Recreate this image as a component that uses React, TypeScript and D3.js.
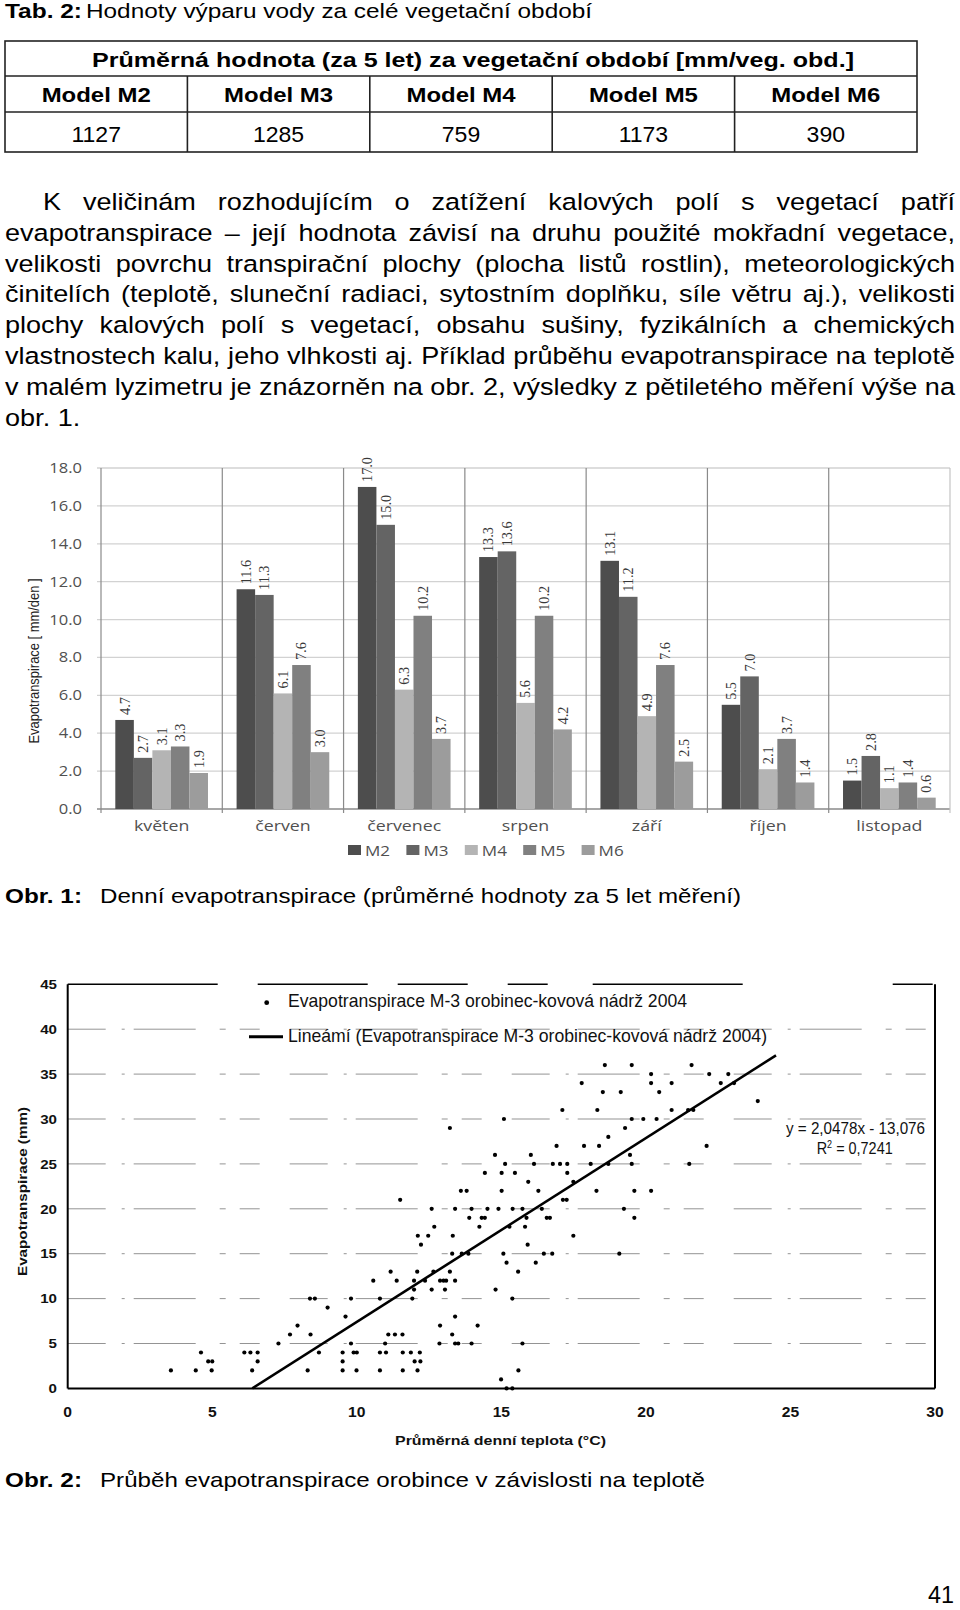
import * as d3 from 'd3';

// ---------- Tab. 2 ----------
const tableTitle = 'Průměrná hodnota (za 5 let) za vegetační období [mm/veg. obd.]';
const tableModels = ['Model M2', 'Model M3', 'Model M4', 'Model M5', 'Model M6'];
const tableValues = [1127, 1285, 759, 1173, 390];

// ---------- paragraph ----------
const paragraphLines = [
  'K veličinám rozhodujícím o zatížení kalových polí s vegetací patří',
  'evapotranspirace – její hodnota závisí na druhu použité mokřadní vegetace,',
  'velikosti povrchu transpirační plochy (plocha listů rostlin), meteorologických',
  'činitelích (teplotě, sluneční radiaci, sytostním doplňku, síle větru aj.), velikosti',
  'plochy kalových polí s vegetací, obsahu sušiny, fyzikálních a chemických',
  'vlastnostech kalu, jeho vlhkosti aj. Příklad průběhu evapotranspirace na teplotě',
  'v malém lyzimetru je znázorněn na obr. 2, výsledky z pětiletého měření výše na',
  'obr. 1.',
];

// ---------- Obr. 1 (bar chart) ----------
const months = ['květen', 'červen', 'červenec', 'srpen', 'září', 'říjen', 'listopad'];
const seriesNames = ['M2', 'M3', 'M4', 'M5', 'M6'];
const valuesM2 = [4.7, 11.6, 17.0, 13.3, 13.1, 5.5, 1.5];
const valuesM3 = [2.7, 11.3, 15.0, 13.6, 11.2, 7.0, 2.8];
const valuesM4 = [3.1, 6.1, 6.3, 5.6, 4.9, 2.1, 1.1];
const valuesM5 = [3.3, 7.6, 10.2, 10.2, 7.6, 3.7, 1.4];
const valuesM6 = [1.9, 3.0, 3.7, 4.2, 2.5, 1.4, 0.6];
const seriesColors = ['#4d4d4d', '#646464', '#b4b4b4', '#808080', '#9c9c9c'];
const barTicks = [0, 2, 4, 6, 8, 10, 12, 14, 16, 18];

// ---------- Obr. 2 (scatter) ----------
// [temperature °C, evapotranspiration mm]
const scatterPoints: [number, number][] = [
  [15.18, 0], [15.38, 0], [14.99, 1],
  [3.57, 2], [4.43, 2], [4.98, 2], [6.38, 2], [8.3, 2], [9.51, 2], [9.99, 2], [10.8, 2], [11.59, 2], [12.1, 2], [15.59, 2],
  [4.86, 3], [5.0, 3], [6.57, 3], [9.51, 3], [12.0, 3], [12.2, 3],
  [4.61, 4], [6.11, 4], [6.32, 4], [6.57, 4], [8.69, 4], [9.51, 4], [9.89, 4], [10.0, 4], [10.8, 4], [11.01, 4], [11.59, 4], [11.87, 4], [12.18, 4],
  [7.29, 5], [9.8, 5], [10.98, 5], [12.86, 5], [13.4, 5], [13.51, 5], [13.97, 5], [15.73, 5],
  [7.69, 6], [8.4, 6], [11.09, 6], [11.32, 6], [11.58, 6], [13.3, 6],
  [7.95, 7], [12.88, 7], [14.18, 7],
  [9.61, 8], [13.4, 8],
  [8.99, 9],
  [8.38, 10], [8.55, 10], [9.8, 10], [10.8, 10], [11.92, 10], [15.38, 10],
  [11.98, 11], [12.59, 11], [13.05, 11], [14.8, 11],
  [10.57, 12], [11.38, 12], [11.98, 12], [12.36, 12], [12.88, 12], [13.0, 12], [13.09, 12], [13.4, 12],
  [11.17, 13], [12.09, 13], [12.65, 13], [13.22, 13], [15.58, 13],
  [15.18, 14], [16.19, 14],
  [13.3, 15], [13.63, 15], [13.86, 15], [15.07, 15], [16.47, 15], [16.76, 15], [19.08, 15],
  [12.22, 16], [15.91, 16],
  [12.11, 17], [12.47, 17], [13.32, 17], [17.49, 17],
  [12.68, 18], [14.24, 18], [15.28, 18], [15.82, 18],
  [13.89, 19], [14.32, 19], [14.43, 19], [15.87, 19], [16.57, 19], [16.68, 19], [19.6, 19],
  [12.59, 20], [13.4, 20], [13.97, 20], [14.52, 20], [14.9, 20], [15.39, 20], [15.73, 20], [16.4, 20], [19.24, 20],
  [11.5, 21], [17.13, 21], [17.26, 21],
  [13.6, 22], [13.8, 22], [15.01, 22], [16.28, 22], [18.29, 22], [19.6, 22], [20.18, 22],
  [15.93, 23], [17.49, 23],
  [14.43, 24], [15.01, 24], [15.47, 24], [17.28, 24],
  [15.13, 25], [16.13, 25], [16.78, 25], [17.03, 25], [17.28, 25], [18.09, 25], [18.7, 25], [19.51, 25], [21.5, 25],
  [14.78, 26], [16.02, 26], [19.45, 26],
  [16.91, 27], [17.86, 27], [18.38, 27], [22.1, 27],
  [18.7, 28],
  [13.22, 29], [19.28, 29],
  [15.09, 30], [19.51, 30], [19.91, 30], [20.37, 30],
  [17.11, 31], [18.32, 31], [20.89, 31], [21.46, 31], [21.64, 31],
  [23.87, 32],
  [18.51, 33], [19.13, 33], [20.46, 33],
  [17.78, 34], [20.18, 34], [20.89, 34], [22.59, 34], [23.05, 34],
  [20.18, 35], [22.19, 35], [22.85, 35],
  [18.58, 36], [19.51, 36], [21.58, 36],
];
const scatterTicksY = [0, 5, 10, 15, 20, 25, 30, 35, 40, 45];
const scatterTicksX = [0, 5, 10, 15, 20, 25, 30];
const trendSlope = 2.0478;
const trendIntercept = -13.076;
const trendEnd = 24.5;

const SANS = "'Liberation Sans', Arial, sans-serif";
const CHART = "'Open Sans', 'DejaVu Sans', sans-serif";
const SERIF = "'Liberation Serif', 'DejaVu Serif', serif";
const SX = 1.15; // the page is stretched horizontally
const BODY_SIZE = 24.5;
const BODY_SX = 1.105;

let measureCtx: CanvasRenderingContext2D | null = null;
const textWidth = (s: string, font: string) => {
  if (!measureCtx) measureCtx = document.createElement('canvas').getContext('2d');
  measureCtx!.font = font;
  return measureCtx!.measureText(s).width;
};

type TProps = {
  x: number;
  y: number;
  size: number;
  bold?: boolean;
  family?: string;
  anchor?: 'start' | 'middle' | 'end';
  width?: number;
  sx?: number;
  fill?: string;
  rotate?: boolean;
  children: string;
};

const T = ({ x, y, size, bold, family = SANS, anchor = 'start', width, sx = SX, fill = '#000', rotate, children }: TProps) => {
  const w = width ?? textWidth(children, `${bold ? 'bold ' : ''}${size}px ${family}`) * sx;
  return (
    <text
      x={x}
      y={y}
      fontSize={size}
      fontWeight={bold ? 'bold' : 'normal'}
      fontFamily={family}
      textAnchor={anchor}
      textLength={w}
      lengthAdjust="spacingAndGlyphs"
      fill={fill}
      transform={rotate ? `rotate(-90 ${x} ${y})` : undefined}
    >
      {children}
    </text>
  );
};

const JustifiedLine = ({ line, x0, x1, y, size, justify }: { line: string; x0: number; x1: number; y: number; size: number; justify: boolean }) => {
  const font = `${size}px ${SANS}`;
  const words = line.split(' ');
  let ws = words.map((w) => textWidth(w, font) * BODY_SX);
  const space = textWidth(' ', font) * BODY_SX;
  let gap = space;
  if (justify && words.length > 1) {
    gap = (x1 - x0 - d3.sum(ws)) / (words.length - 1);
    if (gap < 5) {
      const k = (x1 - x0 - 5 * (words.length - 1)) / d3.sum(ws);
      ws = ws.map((w) => w * k);
      gap = 5;
    }
  }
  let cx = x0;
  return (
    <g>
      {words.map((w, i) => {
        const el = (
          <text key={i} x={cx} y={y} fontSize={size} fontFamily={SANS} textLength={ws[i]} lengthAdjust="spacingAndGlyphs">
            {w}
          </text>
        );
        cx += ws[i] + gap;
        return el;
      })}
    </g>
  );
};

export default function App() {
  // table
  const tableCols = d3.scaleBand<string>().domain(tableModels).range([5, 917]);
  const tableRows = [41, 76, 112, 152];

  // bar chart
  const xMonth = d3.scaleBand<string>().domain(months).range([101, 950]);
  const groupPad = 14.3;
  const xSeries = d3.scaleBand<string>().domain(seriesNames).range([groupPad, xMonth.bandwidth() - groupPad]);
  const yBar = d3.scaleLinear().domain([0, 18]).range([809, 468]);
  const barSeries = [valuesM2, valuesM3, valuesM4, valuesM5, valuesM6];
  const legendX = d3.scaleBand<string>().domain(seriesNames).range([348, 640]);

  // scatter
  const xTemp = d3.scaleLinear().domain([0, 30]).range([67.7, 935]);
  const yEvap = d3.scaleLinear().domain([0, 45]).range([1388.4, 984.3]);
  const trendLine = d3
    .line<number>()
    .x((t) => xTemp(t))
    .y((t) => yEvap(trendSlope * t + trendIntercept));
  const trendX = [-trendIntercept / trendSlope, trendEnd];

  return (
    <svg
      width={960}
      height={1610}
      style={{ position: 'absolute', left: 0, top: 0, display: 'block', background: '#fff' }}
    >
      <rect width={960} height={1610} fill="#fff" />

      {/* ---- Tab. 2 ---- */}
      <T x={5} y={17.5} size={20.5} bold width={77}>Tab. 2:</T>
      <T x={86} y={17.5} size={20.5} width={506}>Hodnoty výparu vody za celé vegetační období</T>

      <rect x={5} y={tableRows[0]} width={912} height={tableRows[3] - tableRows[0]} fill="none" stroke="#222" strokeWidth={1.6} />
      {tableRows.slice(1, 3).map((y) => (
        <line key={y} x1={5} x2={917} y1={y} y2={y} stroke="#222" strokeWidth={1.6} />
      ))}
      {tableModels.slice(1).map((m) => (
        <line key={m} x1={tableCols(m)!} x2={tableCols(m)!} y1={tableRows[1]} y2={tableRows[3]} stroke="#222" strokeWidth={1.6} />
      ))}
      <T x={92} y={66.5} size={21} bold width={762}>{tableTitle}</T>
      {tableModels.map((m) => (
        <T key={m} x={tableCols(m)! + tableCols.bandwidth() / 2} y={101.5} size={21} bold anchor="middle" width={109}>
          {m}
        </T>
      ))}
      {tableModels.map((m, i) => (
        <T key={m} x={tableCols(m)! + tableCols.bandwidth() / 2} y={141.5} size={21.5} anchor="middle" sx={1.07}>
          {String(tableValues[i])}
        </T>
      ))}

      {/* ---- paragraph ---- */}
      {paragraphLines.map((line, i) => (
        <JustifiedLine
          key={i}
          line={line}
          x0={i === 0 ? 43 : 5}
          x1={955}
          y={210 + i * 30.8}
          size={BODY_SIZE}
          justify={i < paragraphLines.length - 1}
        />
      ))}

      {/* ---- Obr. 1: bar chart ---- */}
      <g>
        {barTicks.map((t) => (
          <line
            key={t}
            x1={97}
            x2={950}
            y1={yBar(t)}
            y2={yBar(t)}
            stroke={t === 0 ? '#8a8a8a' : '#d2d2d2'}
            strokeWidth={1.3}
          />
        ))}
        {months.map((m) => (
          <line key={m} x1={xMonth(m)!} x2={xMonth(m)!} y1={yBar(18)} y2={813} stroke="#8a8a8a" strokeWidth={1.2} />
        ))}
        <line x1={950} x2={950} y1={yBar(18)} y2={813} stroke="#c4c4c4" strokeWidth={1.2} />

        {months.map((m, mi) =>
          seriesNames.map((s, si) => {
            const v = barSeries[si][mi];
            const x = xMonth(m)! + xSeries(s)!;
            return (
              <rect
                key={m + s}
                x={x}
                y={yBar(v)}
                width={xSeries.bandwidth()}
                height={yBar(0) - yBar(v)}
                fill={seriesColors[si]}
              />
            );
          })
        )}
        {months.map((m, mi) =>
          seriesNames.map((s, si) => {
            const v = barSeries[si][mi];
            const cx = xMonth(m)! + xSeries(s)! + xSeries.bandwidth() / 2;
            return (
              <T key={m + s} x={cx + 5} y={yBar(v) - 5} size={15} family={SERIF} sx={0.95} fill="#383838" rotate>
                {v.toFixed(1)}
              </T>
            );
          })
        )}

        {barTicks.map((t) => (
          <T key={t} x={82} y={yBar(t) + 5} size={14} family={CHART} anchor="end" sx={1.18} fill="#505050">
            {t.toFixed(1)}
          </T>
        ))}
        {months.map((m) => (
          <T key={m} x={xMonth(m)! + xMonth.bandwidth() / 2} y={831} size={14} family={CHART} anchor="middle" sx={1.27} fill="#505050">
            {m}
          </T>
        ))}
        <T x={39} y={661} size={15} anchor="middle" width={165} fill="#222" rotate>
          Evapotranspirace [ mm/den ]
        </T>

        {seriesNames.map((s, si) => (
          <g key={s}>
            <rect x={legendX(s)!} y={845} width={13} height={10} fill={seriesColors[si]} />
            <T x={legendX(s)! + 17} y={855.5} size={14} family={CHART} sx={1.22} fill="#505050">
              {s}
            </T>
          </g>
        ))}
      </g>

      <T x={5} y={903} size={21} bold width={77}>Obr. 1:</T>
      <T x={100} y={903} size={21} width={641}>Denní evapotranspirace (průměrné hodnoty za 5 let měření)</T>

      {/* ---- Obr. 2: scatter ---- */}
      <g>
        {scatterTicksY.slice(1).map((t) => (
          <line
            key={t}
            x1={xTemp(0)}
            x2={xTemp(30)}
            y1={yEvap(t)}
            y2={yEvap(t)}
            stroke={t === 45 ? '#000' : '#666'}
            strokeWidth={t === 45 ? 1.6 : 0.7}
            strokeDasharray={t === 45 ? '150 40 110 30 70 40 40 45 150' : '38 16 3 9 62 24 6 14 20 30'}
          />
        ))}
        <line x1={xTemp(0)} x2={xTemp(0)} y1={yEvap(45)} y2={yEvap(0)} stroke="#000" strokeWidth={2} />
        <line x1={xTemp(0)} x2={xTemp(30)} y1={yEvap(0)} y2={yEvap(0)} stroke="#000" strokeWidth={2} />
        <line x1={xTemp(30)} x2={xTemp(30)} y1={yEvap(45)} y2={yEvap(0)} stroke="#000" strokeWidth={2} />

        {scatterPoints.map(([t, e], i) => (
          <circle key={i} cx={xTemp(t)} cy={yEvap(e)} r={2.1} fill="#000" />
        ))}
        <path d={trendLine(trendX) ?? ''} stroke="#000" strokeWidth={2.6} fill="none" />

        {scatterTicksY.map((t) => (
          <T key={t} x={57} y={yEvap(t) + 4.7} size={13.5} bold anchor="end" sx={1.12} fill="#111">
            {String(t)}
          </T>
        ))}
        {scatterTicksX.map((t) => (
          <T key={t} x={xTemp(t)} y={1416.5} size={14.5} bold anchor="middle" sx={1.08} fill="#111">
            {String(t)}
          </T>
        ))}
        <T x={500.5} y={1445} size={13} bold anchor="middle" width={211} fill="#111">
          Průměrná denní teplota (°C)
        </T>
        <T x={27} y={1191.5} size={13.5} bold anchor="middle" width={169} fill="#111" rotate>
          Evapotranspirace (mm)
        </T>

        <circle cx={266.7} cy={1002.7} r={2.4} fill="#000" />
        <T x={288} y={1007} size={18.5} width={399} fill="#111">
          Evapotranspirace M-3 orobinec-kovová nádrž 2004
        </T>
        <line x1={249} x2={283} y1={1036.7} y2={1036.7} stroke="#000" strokeWidth={3} />
        <T x={288} y={1041.5} size={18.5} width={479} fill="#111">
          Lineámí (Evapotranspirace M-3 orobinec-kovová nádrž 2004)
        </T>

        <T x={855.5} y={1134} size={16} anchor="middle" width={139} fill="#111">
          y = 2,0478x - 13,076
        </T>
        <text x={816.7} y={1154} fontSize={16} fontFamily={SANS} fill="#111" textLength={76} lengthAdjust="spacingAndGlyphs">
          R<tspan fontSize={10} dy={-6}>2</tspan>
          <tspan dy={6}> = 0,7241</tspan>
        </text>
      </g>

      <T x={5} y={1487} size={21} bold width={77}>Obr. 2:</T>
      <T x={100} y={1487} size={21} width={605}>Průběh evapotranspirace orobince v závislosti na teplotě</T>

      <T x={954} y={1603} size={23} anchor="end" width={26}>41</T>
    </svg>
  );
}
